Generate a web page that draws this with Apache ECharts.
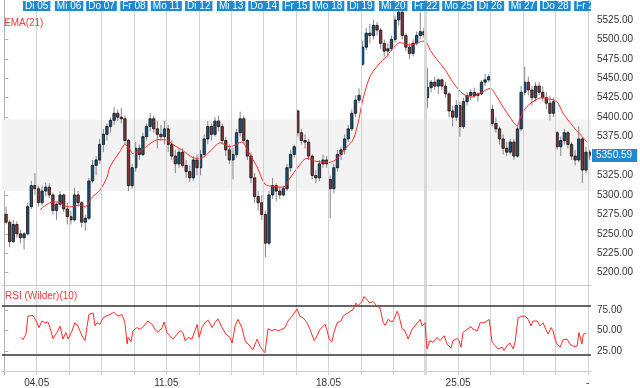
<!DOCTYPE html>
<html><head><meta charset="utf-8">
<script src="https://cdn.jsdelivr.net/npm/echarts@6/dist/echarts.min.js"></script>
<style>html,body{margin:0;padding:0;background:#fff}#c{width:640px;height:388px}</style>
</head><body><div id="c"></div>
<script>
// ---- axis / label data ----
const dayLabels = ['Di 05','Mi 06','Do 07','Fr 08','Mo 11','Di 12','Mi 13','Do 14','Fr 15','Mo 18','Di 19','Mi 20','Fr 22','Mo 25','Di 26','Mi 27','Do 28','Fr 29'];
const dayStarts = [1,2,3,4,5,6,7,8,9,10,11,12,13,14,15,16,17,18];
const holidayGapDay = 13;
const weekTicks = [1,5,10,14,18];
const weekLabels = ['04.05','11.05','18.05','25.05','-'];
const priceTicks = [5200,5225,5250,5275,5300,5325,5350,5375,5400,5425,5450,5475,5500,5525];
const priceLabelTicks = [5200,5225,5250,5275,5300,5325,5375,5400,5425,5450,5475,5500,5525];
const rsiTicks = [25,50,75];
const rsiLevels = [20,80];
const priceBand = [5305,5397];
const lastPrice = 5350.59;

// ---- intraday candles per session: [open, close, low, high] ----
const mo04 = [[5275,5265,5262,5285],[5265,5240,5233,5268],[5240,5262,5238,5268],[5262,5250,5245,5266],[5250,5245,5238,5255],[5245,5250,5230,5252],[5250,5285,5248,5290],[5285,5312,5282,5318],[5312,5308,5300,5328]];
const di05 = [[5308,5290,5285,5312],[5290,5305,5286,5312],[5305,5310,5298,5316],[5310,5300,5296,5315],[5300,5280,5275,5303],[5280,5288,5268,5290],[5288,5300,5285,5305],[5300,5282,5278,5302],[5282,5272,5262,5290]];
const mi06 = [[5272,5268,5262,5280],[5268,5300,5266,5309],[5300,5290,5285,5305],[5290,5265,5258,5292],[5265,5270,5254,5275],[5270,5318,5268,5322],[5318,5338,5315,5345],[5338,5345,5325,5350],[5345,5365,5340,5372]];
const do07 = [[5365,5378,5355,5385],[5378,5388,5370,5392],[5388,5396,5380,5400],[5396,5405,5390,5413],[5405,5400,5395,5410],[5400,5398,5392,5412],[5398,5370,5365,5402],[5370,5312,5305,5372],[5312,5335,5308,5340]];
const fr08 = [[5335,5360,5330,5368],[5360,5352,5345,5365],[5352,5375,5350,5380],[5375,5388,5370,5392],[5388,5398,5382,5405],[5398,5385,5380,5402],[5385,5378,5360,5395],[5378,5375,5370,5390],[5375,5385,5365,5395]];
const mo11 = [[5385,5365,5355,5390],[5365,5350,5345,5370],[5350,5340,5328,5358],[5340,5355,5335,5360],[5355,5338,5335,5360],[5338,5330,5322,5345],[5330,5322,5317,5338],[5322,5345,5318,5350],[5345,5335,5325,5352]];
const di12 = [[5335,5352,5325,5358],[5352,5372,5348,5378],[5372,5388,5365,5395],[5388,5378,5370,5392],[5378,5395,5375,5400],[5395,5388,5382,5402],[5388,5370,5365,5392],[5370,5358,5350,5375],[5358,5345,5340,5365]];
const mi13 = [[5345,5352,5320,5360],[5352,5380,5348,5385],[5380,5398,5375,5407],[5398,5370,5365,5402],[5370,5350,5345,5372],[5350,5322,5315,5355],[5322,5298,5290,5328],[5298,5290,5280,5305],[5290,5275,5268,5300]];
const do14 = [[5275,5238,5220,5280],[5238,5300,5235,5305],[5300,5312,5295,5322],[5312,5305,5292,5315],[5305,5300,5295,5310],[5300,5308,5298,5312],[5308,5335,5305,5340],[5335,5352,5330,5358],[5352,5362,5348,5365]];
const fr15 = [[5408,5380,5375,5410],[5380,5370,5365,5385],[5370,5368,5360,5378],[5368,5350,5345,5372],[5350,5325,5320,5352],[5325,5322,5315,5332],[5322,5340,5318,5345],[5340,5345,5335,5352],[5345,5340,5335,5350]];
const mo18 = [[5320,5308,5270,5325],[5308,5335,5302,5340],[5335,5352,5330,5358],[5352,5358,5345,5362],[5358,5372,5352,5378],[5372,5385,5368,5390],[5385,5405,5382,5410],[5405,5422,5400,5428],[5422,5428,5418,5437]];
const di19 = [[5468,5490,5466,5498],[5490,5508,5486,5515],[5508,5505,5495,5520],[5505,5518,5500,5525],[5518,5512,5505,5522],[5512,5495,5488,5515],[5495,5485,5478,5500],[5485,5488,5478,5495],[5488,5500,5485,5505]];
const mi20 = [[5500,5525,5496,5530],[5525,5535,5518,5545],[5535,5505,5500,5538],[5505,5490,5485,5508],[5490,5482,5475,5495],[5482,5495,5478,5500],[5495,5505,5492,5510],[5505,5510,5500,5535],[5510,5506,5502,5515]];
const fr22 = [[5425,5438,5412,5463],[5438,5445,5432,5448],[5445,5440,5435,5452],[5440,5448,5430,5450],[5448,5440,5435,5450],[5440,5430,5425,5445],[5430,5408,5400,5432],[5408,5400,5388,5415],[5400,5415,5395,5422]];
const mo25 = [[5415,5388,5375,5420],[5388,5420,5385,5425],[5420,5428,5415,5432],[5428,5432,5422,5436],[5432,5428,5425,5438],[5428,5430,5420,5432],[5430,5445,5428,5448],[5445,5448,5440,5456],[5448,5452,5445,5455]];
const di26 = [[5410,5392,5388,5416],[5392,5385,5380,5400],[5385,5372,5365,5388],[5372,5360,5352,5378],[5360,5355,5350,5368],[5355,5368,5352,5372],[5368,5350,5345,5372],[5350,5385,5348,5390],[5385,5432,5382,5440]];
const mi27 = [[5432,5445,5428,5465],[5445,5435,5428,5452],[5435,5425,5415,5440],[5425,5440,5420,5445],[5440,5432,5428,5445],[5432,5425,5420,5440],[5425,5418,5410,5432],[5418,5405,5396,5428],[5405,5420,5400,5425]];
const do28 = [[5380,5362,5358,5382],[5362,5370,5350,5375],[5370,5380,5365,5385],[5380,5365,5360,5382],[5365,5350,5345,5368],[5350,5345,5338,5358],[5345,5372,5342,5388],[5372,5332,5315,5375],[5332,5355,5328,5362]];
const fr29 = [[5355,5350.59,5345,5358]];
const sessions = [mo04,di05,mi06,do07,fr08,mo11,di12,mi13,do14,fr15,mo18,di19,mi20,fr22,mo25,di26,mi27,do28,fr29];
const barsPerSession = 9;

// ---- EMA(21): [session time, value] ----
const ema21 = [[1.10,5281],[1.41,5290],[1.66,5291],[1.93,5285],[2.09,5285],[2.34,5287],[2.49,5285],[2.71,5297],[2.95,5306],[3.17,5323],[3.26,5336],[3.57,5356],[3.72,5365],[3.88,5358],[3.97,5353],[4.19,5356],[4.50,5366],[4.74,5371],[4.96,5371],[5.20,5365],[5.51,5357],[5.82,5348],[6.04,5347],[6.35,5356],[6.66,5367],[6.96,5362],[7.33,5368],[7.52,5356],[7.80,5336],[8.04,5314],[8.29,5311],[8.60,5310],[8.82,5322],[9.03,5334],[9.34,5347],[9.65,5343],[10.05,5342],[10.27,5347],[10.57,5362],[10.76,5371],[10.91,5392],[11.07,5424],[11.28,5452],[11.53,5467],[11.81,5479],[12.02,5490],[12.21,5496],[12.43,5493],[12.58,5493],[12.83,5497],[12.98,5498],[13.14,5486],[13.35,5474],[13.60,5461],[13.84,5445],[14.15,5430],[14.43,5426],[14.68,5431],[14.99,5437],[15.20,5426],[15.39,5413],[15.60,5400],[15.82,5389],[15.91,5398],[16.07,5411],[16.31,5420],[16.59,5425],[16.84,5423],[17.05,5420],[17.24,5405],[17.55,5388],[17.76,5378],[17.98,5368]];

// ---- RSI (Wilder)(10): [session time, value] ----
const rsi10 = [[0.51,41.5],[0.58,38.7],[0.67,45.5],[0.73,67.6],[0.79,69.6],[0.89,68.4],[0.95,70.4],[1.01,59.5],[1.07,53.5],[1.16,61.6],[1.26,59.5],[1.35,60.3],[1.41,53.5],[1.50,40.2],[1.63,47.5],[1.72,55.5],[1.81,39.4],[1.90,47.5],[1.97,39.4],[2.09,49.5],[2.18,59.5],[2.27,55.5],[2.40,43.4],[2.49,37.4],[2.55,53.5],[2.61,69.6],[2.74,71.6],[2.80,55.5],[2.86,59.5],[2.95,57.5],[3.05,65.6],[3.14,67.6],[3.26,69.6],[3.38,72.4],[3.51,67.6],[3.63,69.6],[3.72,59.5],[3.79,33.4],[3.82,41.5],[3.91,36.2],[3.97,49.5],[4.09,53.5],[4.19,51.5],[4.31,55.5],[4.43,61.6],[4.56,57.5],[4.65,51.5],[4.74,47.5],[4.87,53.5],[4.93,60.3],[5.02,47.5],[5.11,43.4],[5.21,39.4],[5.33,45.5],[5.42,49.5],[5.51,47.5],[5.58,37.4],[5.67,41.5],[5.79,39.4],[5.88,49.5],[5.95,57.5],[6.01,41.5],[6.10,53.5],[6.19,59.5],[6.29,62.7],[6.41,53.5],[6.50,59.5],[6.59,64.4],[6.72,53.5],[6.84,45.5],[6.96,41.5],[7.03,34.6],[7.12,55.5],[7.21,63.6],[7.33,53.5],[7.43,37.4],[7.55,32.2],[7.67,26.2],[7.80,39.4],[7.89,30.6],[7.98,25.4],[8.04,22.6],[8.14,52.3],[8.26,49.5],[8.35,51.5],[8.44,49.5],[8.57,51.5],[8.66,53.5],[8.75,61.6],[8.88,67.6],[8.94,69.6],[9.03,76.5],[9.12,67.6],[9.22,65.6],[9.34,59.5],[9.43,51.5],[9.56,37.4],[9.65,43.4],[9.74,51.5],[9.90,57.5],[9.96,49.5],[10.02,39.4],[10.11,36.2],[10.17,47.5],[10.27,59.5],[10.39,61.6],[10.45,67.6],[10.60,71.6],[10.76,75.6],[10.85,83.7],[10.91,80.5],[11.04,85.7],[11.10,91.8],[11.19,87.8],[11.28,83.7],[11.38,85.7],[11.50,79.7],[11.59,77.6],[11.69,59.5],[11.75,56.3],[11.84,63.6],[11.96,60.3],[12.02,63.6],[12.12,73.6],[12.18,67.6],[12.27,52.3],[12.36,49.5],[12.46,39.4],[12.58,51.5],[12.67,55.5],[12.73,57.5],[12.83,63.6],[12.89,55.5],[12.98,59.5],[13.04,27.3],[13.13,37.4],[13.23,35.4],[13.35,41.5],[13.44,37.4],[13.57,43.4],[13.66,33.4],[13.78,28.1],[13.84,37.4],[13.97,40.2],[14.03,37.4],[14.09,29.4],[14.15,47.5],[14.28,51.5],[14.40,54.7],[14.46,51.5],[14.59,49.5],[14.68,59.5],[14.80,59.5],[14.89,61.6],[14.96,63.6],[15.05,35.4],[15.14,31.4],[15.23,27.3],[15.36,29.4],[15.42,25.4],[15.51,31.4],[15.60,34.6],[15.70,27.3],[15.76,36.2],[15.85,65.6],[15.97,67.6],[16.07,67.6],[16.16,63.6],[16.25,55.5],[16.31,61.6],[16.44,61.6],[16.53,55.5],[16.62,59.5],[16.68,53.5],[16.78,45.5],[16.87,53.5],[16.93,49.5],[16.99,39.4],[17.05,33.4],[17.15,29.4],[17.24,38.7],[17.36,39.4],[17.45,33.4],[17.55,30.6],[17.67,30.6],[17.73,47.5],[17.82,33.4],[17.86,45.5],[17.95,46.7]];

// ---- build ----
const candles = [];
sessions.forEach((s, d) => s.forEach((b, k) => candles.push([d + (k + 0.5) / barsPerSession, b[0], b[1], b[2], b[3]])));
const lastT = candles[candles.length - 1][0];

const FONT = 'Liberation Sans, Arial, sans-serif';
const X_MIN = -0.07, X_MAX = 18.1;
const P_MIN = 5184.2, P_MAX = 5550.7;
const R_MIN = -4.8, R_MAX = 104.7;
const UP = '#175583', DOWN = '#853737', BLUE = '#1f8ad0', RED = '#ff2a2a', GRID = '#d2d2d2';

const dayLines = dayStarts.map(t => t === holidayGapDay
  ? { xAxis: t, lineStyle: { color: '#dadada', width: 3 } }
  : { xAxis: t });

const chart = echarts.init(document.getElementById('c'), null, { renderer: 'canvas' });
chart.setOption({
  animation: false,
  backgroundColor: '#fff',
  textStyle: { fontFamily: FONT },
  grid: [
    { left: 2, right: 49, top: 0, height: 285 },
    { left: 2, right: 49, top: 286, height: 90.7 }
  ],
  xAxis: [
    { type: 'value', gridIndex: 0, min: X_MIN, max: X_MAX,
      axisLine: { show: true, lineStyle: { color: '#c8c8c8' } }, axisTick: { show: false },
      axisLabel: { show: false }, splitLine: { show: false } },
    { type: 'value', gridIndex: 1, min: X_MIN, max: X_MAX,
      axisLine: { show: true, lineStyle: { color: '#c8c8c8' } }, axisTick: { show: false },
      splitLine: { show: false },
      axisLabel: { customValues: weekTicks, formatter: v => weekLabels[weekTicks.indexOf(v)],
        color: '#333', fontSize: 10, fontFamily: FONT, margin: 3 } }
  ],
  yAxis: [
    { type: 'value', gridIndex: 0, position: 'right', min: P_MIN, max: P_MAX,
      axisLine: { show: true, lineStyle: { color: '#b0b0b0' } },
      axisTick: { show: true, customValues: priceTicks, length: 4, lineStyle: { color: '#b0b0b0' } },
      axisLabel: { customValues: priceLabelTicks, formatter: v => v.toFixed(2), color: '#333', fontSize: 10, fontFamily: FONT, margin: 6 },
      splitLine: { show: false } },
    { type: 'value', gridIndex: 1, position: 'right', min: R_MIN, max: R_MAX,
      axisLine: { show: true, lineStyle: { color: '#b0b0b0' } },
      axisTick: { show: true, customValues: rsiTicks, length: 4, lineStyle: { color: '#b0b0b0' } },
      axisLabel: { customValues: rsiTicks, formatter: v => v.toFixed(2), color: '#333', fontSize: 10, fontFamily: FONT, margin: 6 },
      splitLine: { show: false } }
  ],
  series: [
    // band
    { type: 'line', xAxisIndex: 0, yAxisIndex: 0, data: ema21, silent: true, z: 1,
      symbol: 'none', lineStyle: { opacity: 0 },
      markArea: { silent: true, itemStyle: { color: '#f3f3f3' },
        data: [[{ yAxis: priceBand[0] }, { yAxis: priceBand[1] }]] } },
    // day gridlines main
    { type: 'line', xAxisIndex: 0, yAxisIndex: 0, data: ema21, silent: true, z: 2,
      symbol: 'none', lineStyle: { opacity: 0 },
      markLine: { silent: true, symbol: 'none', label: { show: false },
        lineStyle: { color: GRID, width: 1, type: 'solid' }, data: dayLines } },
    // candles
    { type: 'custom', name: 'candles', xAxisIndex: 0, yAxisIndex: 0, data: candles, z: 3, clip: true,
      encode: { x: 0, y: [1, 2, 3, 4] },
      renderItem: (params, api) => {
        const t = api.value(0), o = api.value(1), c = api.value(2), l = api.value(3), h = api.value(4);
        const pO = api.coord([t, o]), pC = api.coord([t, c]), pL = api.coord([t, l]), pH = api.coord([t, h]);
        const w = api.size([1 / barsPerSession, 0])[0] * 0.66;
        const x = pO[0];
        const top = Math.min(pO[1], pC[1]), bot = Math.max(pO[1], pC[1]);
        return { type: 'group', children: [
          { type: 'line', shape: { x1: x, y1: pH[1], x2: x, y2: pL[1] }, style: { stroke: '#858585', lineWidth: 1 } },
          { type: 'rect', shape: { x: x - w / 2, y: top, width: w, height: Math.max(bot - top, 1) },
            style: { fill: c >= o ? UP : DOWN, stroke: '#111', lineWidth: 0.8 } }
        ] };
      } },
    // EMA
    { type: 'line', name: 'EMA(21)', xAxisIndex: 0, yAxisIndex: 0, data: ema21, z: 4,
      symbol: 'none', smooth: 0.3, lineStyle: { color: RED, width: 1 } },
    // top day labels
    { type: 'custom', xAxisIndex: 0, yAxisIndex: 0, z: 6, clip: true,
      data: dayStarts.map(t => [t, P_MAX]),
      renderItem: (params, api) => {
        const x = api.coord([api.value(0), api.value(1)])[0];
        const cs = params.coordSys;
        return { type: 'text', x: x, y: cs.y + 1,
          style: { text: dayLabels[params.dataIndex], fill: '#fff', backgroundColor: BLUE,
            padding: [0, 2, 0, 2], font: '10px ' + FONT, lineHeight: 10, align: 'center', verticalAlign: 'top' } };
      } },
    // last price
    { type: 'line', xAxisIndex: 0, yAxisIndex: 0, data: [[lastT, lastPrice]], z: 7, clip: false,
      symbol: 'none', lineStyle: { opacity: 0 },
      markLine: { silent: true, symbol: 'none', lineStyle: { color: BLUE, width: 1, type: 'solid' },
        label: { show: true, position: 'end', distance: 1, formatter: () => lastPrice.toFixed(2),
          color: '#fff', backgroundColor: BLUE, padding: [2, 5, 1, 4], fontSize: 10, fontFamily: FONT },
        data: [[{ coord: [X_MAX - 0.07, lastPrice] }, { coord: [X_MAX, lastPrice] }]] } },
    // RSI gridlines + levels
    { type: 'line', xAxisIndex: 1, yAxisIndex: 1, data: rsi10, silent: true, z: 1,
      symbol: 'none', lineStyle: { opacity: 0 },
      markLine: { silent: true, symbol: 'none', label: { show: false },
        lineStyle: { color: GRID, width: 1, type: 'solid' }, data: dayLines } },
    { type: 'line', xAxisIndex: 1, yAxisIndex: 1, data: rsi10, silent: true, z: 2,
      symbol: 'none', lineStyle: { opacity: 0 },
      markLine: { silent: true, symbol: 'none', label: { show: false },
        lineStyle: { color: '#333', width: 1.5, type: 'solid' }, data: rsiLevels.map(v => ({ yAxis: v })) } },
    { type: 'line', name: 'RSI', xAxisIndex: 1, yAxisIndex: 1, data: rsi10, z: 5,
      symbol: 'none', lineStyle: { color: RED, width: 1 } }
  ],
  graphic: [
    { type: 'text', left: 4, top: 18, z: 10, style: { text: 'EMA(21)', fill: '#ee3b3b', font: '10px ' + FONT } },
    { type: 'text', left: 5, top: 291, z: 10, style: { text: 'RSI (Wilder)(10)', fill: '#ee3b3b', font: '10px ' + FONT } }
  ]
});
</script></body></html>
